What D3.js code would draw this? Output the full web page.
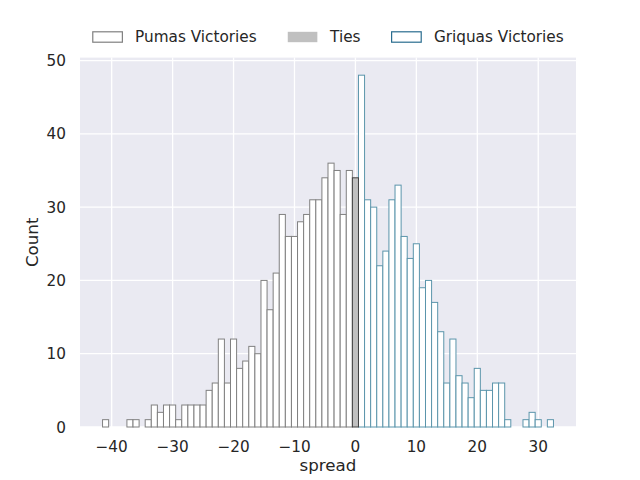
<!DOCTYPE html>
<html>
<head>
<meta charset="utf-8">
<script src="https://cdn.jsdelivr.net/npm/d3@7"></script>
<style>
  body { margin: 0; background: #fff; }
  text { font-family: "DejaVu Sans", sans-serif; fill: #262626; }
</style>
</head>
<body>
<div id="chart"></div>
<script>
// ---------------------------------- DATA ---------------------------------- //

let pumas_spread = [-41, -37, -36, -34, -33, -32, -31, -30, -29, -28, -27, -26, -25, -24, -23, -22, -21, -20,
  -19, -18, -17, -16, -15, -14, -13, -12, -11, -10, -9, -8, -7, -6, -5, -4, -3, -2, -1];
let pumas_count = [1, 1, 1, 1, 3, 2, 3, 3, 1, 3, 3, 3, 3, 5, 6, 12, 6, 12,
  8, 9, 11, 10, 20, 16, 21, 29, 26, 26, 28, 29, 31, 31, 34, 36, 35, 29, 35];

let ties_spread = [0];
let ties_count = [34];

let griquas_spread = [1, 2, 3, 4, 5, 6, 7, 8, 9, 10, 11, 12, 13, 14, 15, 16, 17, 18, 19, 20,
  21, 22, 23, 24, 25, 28, 29, 30, 32];
let griquas_count = [48, 31, 30, 22, 24, 31, 33, 26, 23, 25, 19, 20, 17, 13, 6, 12, 7, 6, 4, 8,
  5, 5, 6, 6, 1, 1, 2, 1, 1];

let x_ticks = [-40, -30, -20, -10, 0, 10, 20, 30];
let y_ticks = [0, 10, 20, 30, 40, 50];

let legend_labels = ['Pumas Victories', 'Ties', 'Griquas Victories'];

// ---------------------------------- SETTINGS ---------------------------------- //

let img_width = 640;
let img_height = 480;
let ax_left = 80;
let ax_right = 576;
let ax_top = 57.6;
let ax_bottom = 427;
let tick_font = 15.28;
let label_font = 16.67;
let bg_color = '#eaeaf2';

let styles = [
  { fill: '#ffffff', stroke: '#808080', legend_stroke: '#808080' },
  { fill: '#c0c0c0', stroke: '#404040', legend_stroke: 'none' },
  { fill: '#ffffff', stroke: '#5b95ab', legend_stroke: '#2a6d8f' }
];

// ---------------------------------- SCALES ---------------------------------- //

let x = d3.scaleLinear().domain([-45.2, 36.2]).range([ax_left, ax_right]);
let y = d3.scaleLinear().domain([0, 50.4]).range([ax_bottom, ax_top]);

let svg = d3.select('#chart').append('svg')
  .attr('width', img_width)
  .attr('height', img_height);

svg.append('rect')
  .attr('x', ax_left).attr('y', ax_top)
  .attr('width', ax_right - ax_left).attr('height', ax_bottom - ax_top)
  .attr('fill', bg_color);

// grid
let g_grid = svg.append('g');
g_grid.selectAll('.xg').data(x_ticks).enter().append('line')
  .attr('x1', d => x(d)).attr('x2', d => x(d))
  .attr('y1', ax_top).attr('y2', ax_bottom)
  .attr('stroke', '#fff').attr('stroke-width', 1.3);
g_grid.selectAll('.yg').data(y_ticks).enter().append('line')
  .attr('x1', ax_left).attr('x2', ax_right)
  .attr('y1', d => y(d)).attr('y2', d => y(d))
  .attr('stroke', '#fff').attr('stroke-width', 1.3);

// ---------------------------------- BARS ---------------------------------- //

function drawBars(spread, count, style) {
  let rows = spread.map((s, i) => ({ s: s, c: count[i] }));
  svg.append('g').selectAll('rect').data(rows).enter().append('rect')
    .attr('x', d => x(d.s - 0.5))
    .attr('width', d => x(d.s + 0.5) - x(d.s - 0.5))
    .attr('y', d => y(d.c))
    .attr('height', d => y(0) - y(d.c))
    .attr('fill', style.fill)
    .attr('stroke', style.stroke)
    .attr('stroke-width', 1);
}

drawBars(pumas_spread, pumas_count, styles[0]);
drawBars(griquas_spread, griquas_count, styles[2]);
drawBars(ties_spread, ties_count, styles[1]);

// ---------------------------------- AXES ---------------------------------- //

svg.append('g').selectAll('text').data(x_ticks).enter().append('text')
  .attr('x', d => x(d))
  .attr('y', 452)
  .attr('text-anchor', 'middle')
  .style('font-size', `${tick_font}px`)
  .text(d => d < 0 ? `\u2212${-d}` : d);

svg.append('g').selectAll('text').data(y_ticks).enter().append('text')
  .attr('x', 66)
  .attr('y', d => y(d))
  .attr('dy', '0.36em')
  .attr('text-anchor', 'end')
  .style('font-size', `${tick_font}px`)
  .text(d => d);

svg.append('text')
  .attr('x', (ax_left + ax_right) / 2)
  .attr('y', 471)
  .attr('text-anchor', 'middle')
  .style('font-size', `${label_font}px`)
  .text('spread');

svg.append('text')
  .attr('transform', `translate(38,${(ax_top + ax_bottom) / 2}) rotate(-90)`)
  .attr('text-anchor', 'middle')
  .style('font-size', `${label_font}px`)
  .text('Count');

// ---------------------------------- LEGEND ---------------------------------- //

let handle_w = 30.6;
let handle_h = 10.4;
let text_pad = 12.2;
let col_gap = 30.6;
let legend_y = 37;

let g_legend = svg.append('g');
let items = legend_labels.map((label, i) => {
  let g = g_legend.append('g');
  g.append('rect')
    .attr('x', 0.5).attr('y', legend_y - handle_h / 2)
    .attr('width', handle_w - 1).attr('height', handle_h)
    .attr('fill', styles[i].fill)
    .attr('stroke', styles[i].legend_stroke)
    .attr('stroke-width', 1.2);
  let t = g.append('text')
    .attr('x', handle_w + text_pad)
    .attr('y', legend_y + 5.2)
    .style('font-size', `${tick_font}px`)
    .text(label);
  return { g: g, w: handle_w + text_pad + t.node().getComputedTextLength() };
});
let total = d3.sum(items, d => d.w) + col_gap * (items.length - 1);
let cursor = (ax_left + ax_right) / 2 - total / 2;
items.forEach(item => {
  item.g.attr('transform', `translate(${cursor},0)`);
  cursor += item.w + col_gap;
});
</script>
</body>
</html>
